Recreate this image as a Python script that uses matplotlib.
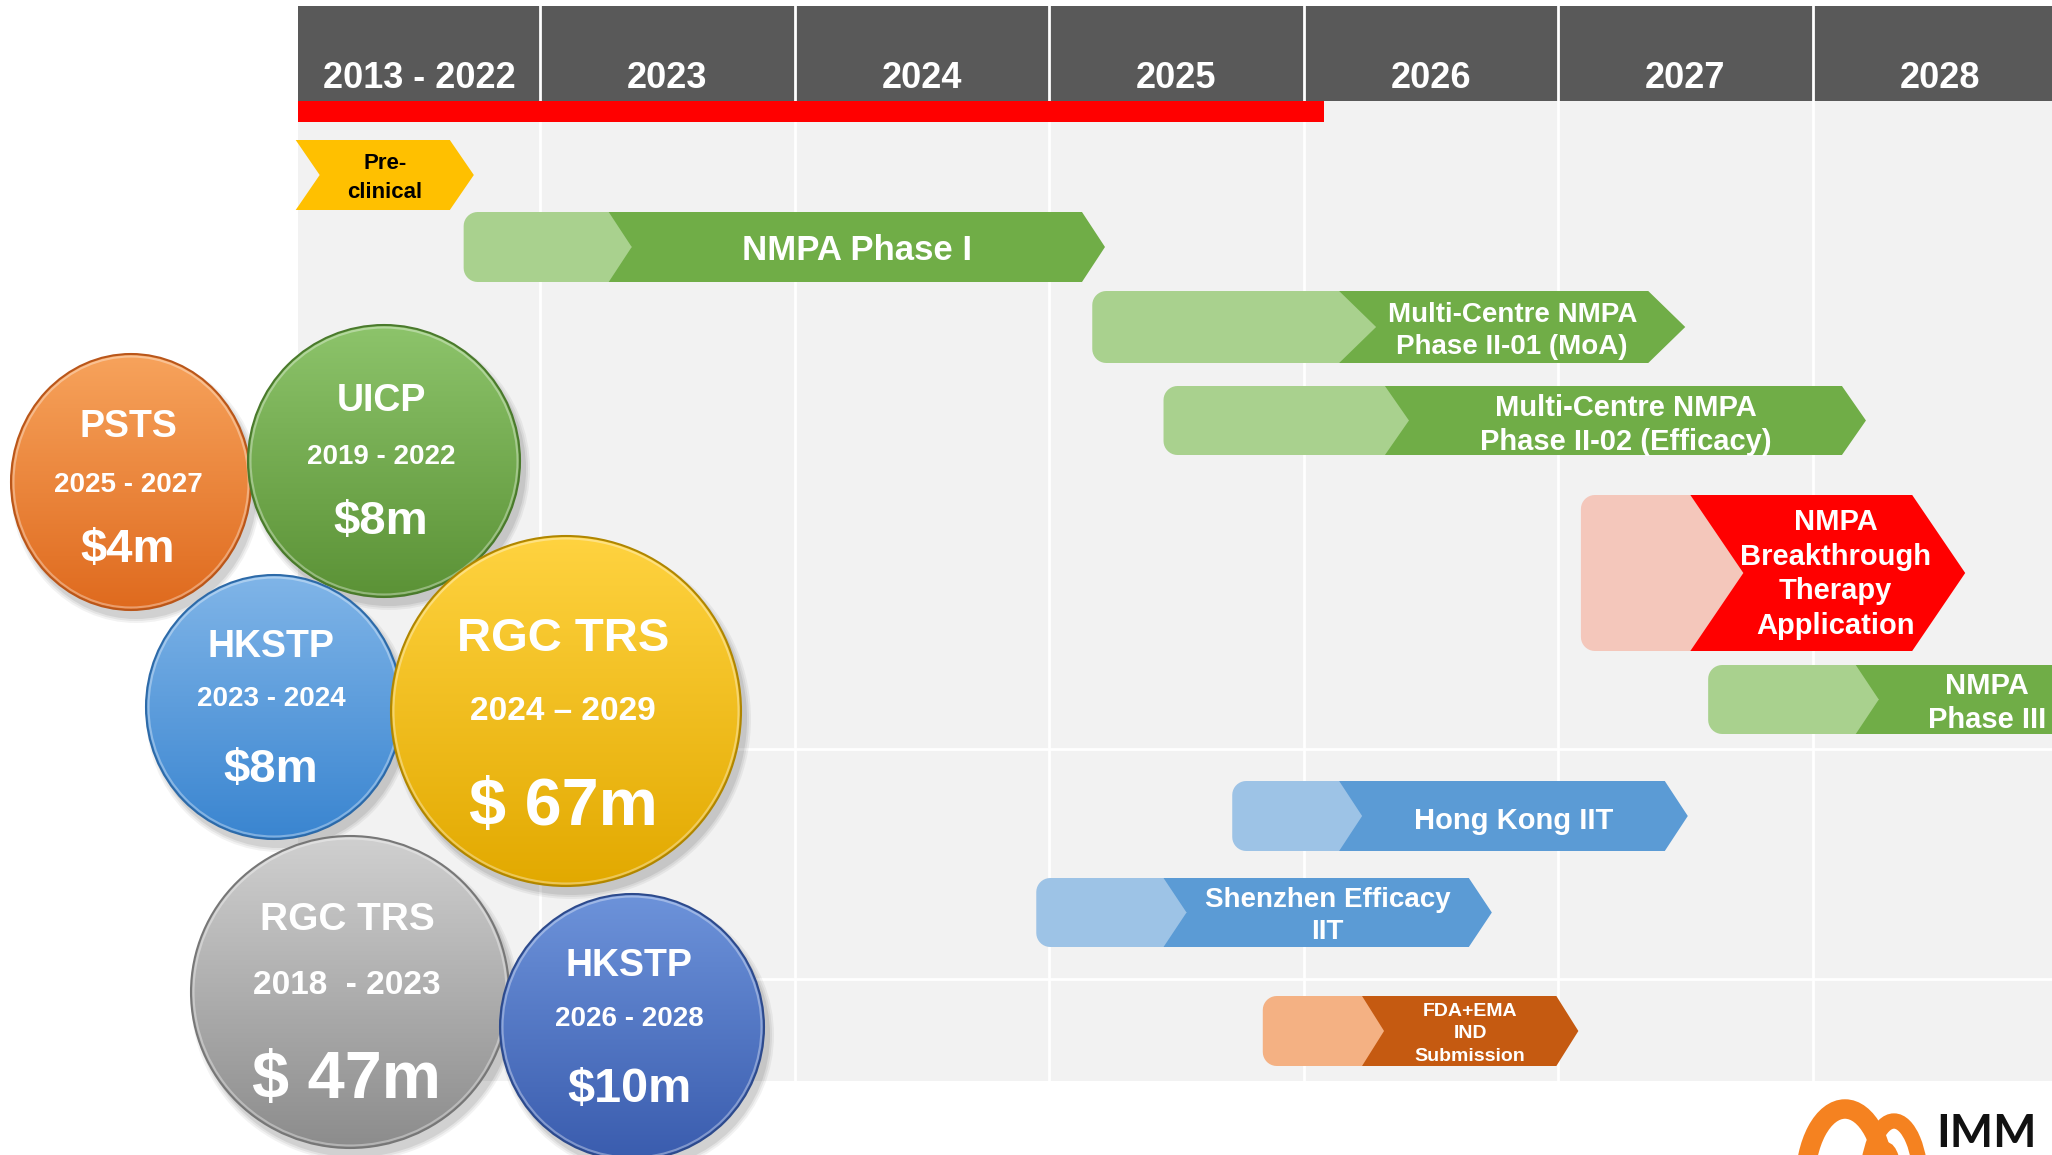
import numpy as np
import matplotlib
matplotlib.use('Agg')
import matplotlib.pyplot as plt
from matplotlib import font_manager
from matplotlib.patches import Polygon, Rectangle, Ellipse, Arc
from matplotlib.colors import to_rgb

W, H = 2052, 1155

# timeline header
col_labels = ['2013 - 2022', '2023', '2024', '2025', '2026', '2027', '2028']
col_starts = [2022.05, 2023, 2024, 2025, 2026, 2027, 2028]
col_ends = [2023, 2024, 2025, 2026, 2027, 2028, 2029]
progress_start = 2022.05
progress_end = 2026.08

# milestones (years): light lead-in start, solid start, arrow tip
tasks = ['Pre-\nclinical', 'NMPA Phase I', 'Multi-Centre NMPA\nPhase II-01 (MoA)',
         'Multi-Centre NMPA\nPhase II-02 (Efficacy)', 'NMPA\nBreakthrough\nTherapy\nApplication',
         'NMPA\nPhase III', 'Hong Kong IIT', 'Shenzhen Efficacy\nIIT', 'FDA+EMA\nIND\nSubmission']
light_start = [None, 2022.70, 2025.17, 2025.45, 2027.09, 2027.59, 2025.72, 2024.95, 2025.84]
dark_start = [2022.04, 2023.27, 2026.14, 2026.32, 2027.52, 2028.17, 2026.14, 2025.45, 2026.23]
task_end = [2022.74, 2025.22, 2027.50, 2028.21, 2028.60, 2029.20, 2027.51, 2026.74, 2027.08]
task_group = ['yellow', 'green', 'green', 'green', 'red', 'green', 'blue', 'blue', 'orange']

# funding bubbles
grant_names = ['PSTS', 'UICP', 'HKSTP', 'RGC TRS', 'RGC TRS', 'HKSTP']
grant_years = ['2025 - 2027', '2019 - 2022', '2023 - 2024', '2024 \u2013 2029', '2018  - 2023', '2026 - 2028']
grant_amounts = ['$4m', '$8m', '$8m', '$ 67m', '$ 47m', '$10m']

# ---- layout / styles ----
PX_PER_YEAR = 254.5
X0 = 2023 - 540 / PX_PER_YEAR
X1 = X0 + W / PX_PER_YEAR

lane_top = [140, 212, 291, 386, 495, 665, 781, 878, 996]
lane_bot = [210, 282, 363, 455, 651, 734, 851, 947, 1066]
tip_px = [24, 23, 37, 24, 53, 23, 23, 23, 22]
text_y = [178, 251, 331, 425, 574, 703, 821, 916, 1034]
text_x_shift = [0, 0, 0, 0, 0.03, 0, 0, 0, 0]
text_size = [16, 25, 20, 21, 21, 21, 21, 20, 14]
text_ls = [1.45, 1.2, 1.3, 1.3, 1.3, 1.25, 1.2, 1.33, 1.45]

colors = {
    'yellow': ('#ffc000', '#ffc000', 'black'),
    'green': ('#a9d18e', '#70ad47', 'white'),
    'red': ('#f4c7bb', '#ff0000', 'white'),
    'blue': ('#9dc3e6', '#5b9bd5', 'white'),
    'orange': ('#f4b183', '#c55a11', 'white'),
}

bub_xy = [(131, 482), (384, 461), (274, 707), (566, 711), (350, 992), (632, 1027)]
bub_r = [(120, 128), (136, 136), (128, 132), (175, 175), (159, 156), (132, 133)]
bub_text_y = [(427, 485, 550), (401, 457, 522), (647, 699, 770),
              (639, 711, 808), (920, 985, 1081), (966, 1019, 1089)]
bub_sizes = [(27, 20, 34), (27, 20, 34), (27, 20, 34),
             (34, 24, 48), (28, 24, 48), (27, 20, 35)]
bub_cols = [('#f7a35c', '#df6a1e', '#b9561a'), ('#8dc46b', '#5b9236', '#4a7a2c'),
            ('#80b5e8', '#3a85d0', '#2d6aa8'), ('#ffd340', '#e2a900', '#b08600'),
            ('#d0d0d0', '#8c8c8c', '#777777'), ('#6d93da', '#3a5cae', '#2d4a8c')]

names = {f.name for f in font_manager.fontManager.ttflist}
narrow = next((n for n in ['Liberation Sans Narrow', 'DejaVu Sans Condensed', 'Liberation Sans']
               if n in names), 'DejaVu Sans')
arial = 'Liberation Sans' if 'Liberation Sans' in names else 'DejaVu Sans'

fig = plt.figure(figsize=(W / 100, H / 100), dpi=100)
fig.patch.set_facecolor('white')
ax = fig.add_axes([0, 0, 1, 1])
ax.set_xlim(X0, X1)
ax.set_ylim(H, 0)
ax.axis('off')

# grid background + header
ax.add_patch(Rectangle((col_starts[0], 101), X1 + 1 - col_starts[0], 980, fc='#f2f2f2', ec='none', zorder=0))
ax.add_patch(Rectangle((col_starts[0], 6), X1 + 1 - col_starts[0], 95, fc='#595959', ec='none', zorder=1))
for s, e, lab in zip(col_starts, col_ends, col_labels):
    ax.text((s + e) / 2, 78, lab, ha='center', va='center', color='white',
            fontsize=26, fontweight='bold', family=narrow, zorder=3)
for s in col_starts[1:]:
    ax.plot([s, s], [6, 1081], color='white', lw=2, zorder=2)
for y in [749, 979]:
    ax.plot([col_starts[0], X1 + 1], [y, y], color='white', lw=2, zorder=2)
ax.add_patch(Rectangle((progress_start, 101), progress_end - progress_start, 21,
                       fc='#ff0000', ec='none', zorder=3))


def rounded_left(x0, x1, top, bot, r_px=14):
    rx = r_px / PX_PER_YEAR
    pts = [(x1, top)]
    for a in np.linspace(-np.pi / 2, -np.pi, 10):
        pts.append((x0 + rx + rx * np.cos(a), top + r_px + r_px * np.sin(a)))
    for a in np.linspace(np.pi, np.pi / 2, 10):
        pts.append((x0 + rx + rx * np.cos(a), bot - r_px + r_px * np.sin(a)))
    pts.append((x1, bot))
    return pts


def chevron(x0, x1, top, bot, tip):
    t = tip / PX_PER_YEAR
    mid = (top + bot) / 2
    return [(x0, top), (x1 - t, top), (x1, mid), (x1 - t, bot), (x0, bot), (x0 + t, mid)]


for i, lab in enumerate(tasks):
    light, dark, txt = colors[task_group[i]]
    top, bot = lane_top[i], lane_bot[i]
    t = tip_px[i] / PX_PER_YEAR
    if light_start[i] is not None:
        ax.add_patch(Polygon(rounded_left(light_start[i], dark_start[i] + t, top, bot),
                             closed=True, fc=light, ec='none', zorder=4))
    ax.add_patch(Polygon(chevron(dark_start[i], task_end[i], top, bot, tip_px[i]),
                         closed=True, fc=dark, ec='none', zorder=5))
    ax.text((dark_start[i] + task_end[i]) / 2 + text_x_shift[i], text_y[i], lab,
            ha='center', va='center', color=txt, fontsize=text_size[i], fontweight='bold',
            family=narrow, linespacing=text_ls[i], zorder=6)

# bubbles on a pixel overlay
bx = fig.add_axes([0, 0, 1, 1])
bx.set_xlim(0, W)
bx.set_ylim(H, 0)
bx.axis('off')
bx.patch.set_alpha(0)

for i in range(len(grant_names)):
    cx, cy = bub_xy[i]
    rx, ry = bub_r[i]
    c_top, c_bot, c_edge = bub_cols[i]
    z = 10 + i * 3
    for k, a in enumerate([0.05, 0.06, 0.08]):
        bx.add_patch(Ellipse((cx + 5, cy + 8), 2 * rx + 10 - 4 * k, 2 * ry + 10 - 4 * k,
                             fc='black', ec='none', alpha=a, zorder=z))
    grad = np.linspace(0, 1, 256)[:, None, None]
    img = (1 - grad) * np.array(to_rgb(c_top)) + grad * np.array(to_rgb(c_bot))
    im = bx.imshow(img, extent=(cx - rx, cx + rx, cy + ry, cy - ry), origin='upper',
                   aspect='auto', zorder=z + 1, interpolation='bilinear')
    clip = Ellipse((cx, cy), 2 * rx, 2 * ry, fc='none', ec='none', transform=bx.transData)
    bx.add_patch(clip)
    im.set_clip_path(clip)
    bx.add_patch(Ellipse((cx, cy), 2 * rx - 5, 2 * ry - 5, fc='none', ec='white',
                         lw=1.5, alpha=0.35, zorder=z + 1.5))
    bx.add_patch(Ellipse((cx, cy), 2 * rx, 2 * ry, fc='none', ec=c_edge, lw=1.5, zorder=z + 1.6))
    ty = bub_text_y[i]
    fs = bub_sizes[i]
    for lab, y, f in zip([grant_names[i], grant_years[i], grant_amounts[i]], ty, fs):
        bx.text(cx - 3, y, lab, ha='center', va='center', color='white', fontsize=f,
                fontweight='bold', family=arial, zorder=z + 2)

# logo (partly off-canvas)
for (lx, ly, lw_, lh, lwid) in [(1845, 1184, 80, 150, 14), (1894, 1186, 54, 130, 11),
                                 (1886, 1180, 22, 66, 7)]:
    bx.add_patch(Arc((lx, ly), lw_, lh, theta1=180, theta2=360, color='#f58220', lw=lwid, zorder=30))
bx.text(1936, 1147, 'IMM', ha='left', va='baseline', color='#111111', fontsize=33,
        fontweight='bold', family='Lato', zorder=30)

fig.savefig('out.png', dpi=100)
